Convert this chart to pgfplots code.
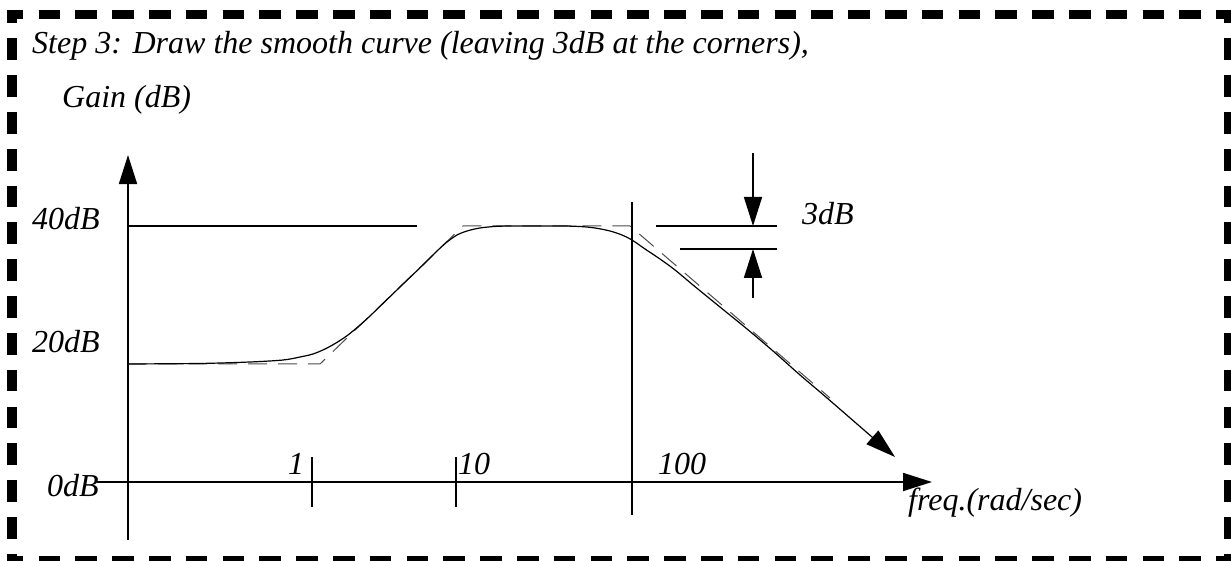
\documentclass[border=0pt]{standalone}
\usepackage{fontspec}
\setmainfont{Liberation Serif}
\usepackage{pgfplots}
\pgfplotsset{compat=1.18}
\usetikzlibrary{arrows.meta}

% Smooth magnitude curve: position along the frequency axis, gain in dB
\pgfplotstableread{
x    db
128  18.44
200  18.52
250  18.75
283  19.06
300  19.53
313  20.00
325  20.78
336  21.72
348  22.97
360  24.53
370  25.94
400  30.47
425  34.22
437  36.09
447  37.50
457  38.59
467  39.22
480  39.69
497  39.95
520  40.00
560  40.00
580  39.92
595  39.69
610  39.22
622  38.59
632  37.81
645  36.41
660  34.84
675  33.13
693  30.78
720  27.34
747  23.91
773  20.47
800  16.72
827  13.13
895  3.91
}\smoothcurve

% Straight-line (asymptotic) approximation
\pgfplotstableread{
x    db
128  18.44
320  18.44
463  40.00
630  40.00
830  13.13
}\asymptote

\begin{document}
\begin{tikzpicture}[x=1pt,y=1pt]
\tikzset{
  lbl/.style={anchor=base west, inner sep=0pt, font=\fontsize{32}{38}\selectfont\itshape},
  axisline/.style={line width=1.8pt, black},
  bigarrow/.style={-{Triangle[length=29pt,width=18pt]}},
}
\begin{scope}
\clip (0,0) rectangle (1231,560);
\begin{axis}[
  at={(0,0)}, anchor=south west,
  width=1231pt, height=560pt, scale only axis,
  xmin=0, xmax=1231, ymin=-12.1875, ymax=75.3125,
  hide axis, clip=false,
]
  % axes
  \draw[axisline, bigarrow] (axis cs:128,-9.06) -- (axis cs:128,51.09);
  \draw[axisline, bigarrow] (axis cs:97,0) -- (axis cs:932,0);
  % decade marks
  \draw[axisline] (axis cs:312,3.906) -- (axis cs:312,-3.906);
  \draw[axisline] (axis cs:456,3.906) -- (axis cs:456,-3.906);
  \draw[axisline] (axis cs:632,43.75) -- (axis cs:632,-5.156);
  % 40 dB reference level
  \draw[line width=1.6pt] (axis cs:128,40) -- (axis cs:417,40);
  % 3 dB indicator
  \draw[line width=1.6pt] (axis cs:656,40) -- (axis cs:777,40);
  \draw[line width=1.6pt] (axis cs:680,36.41) -- (axis cs:777,36.41);
  \draw[line width=1.6pt, bigarrow] (axis cs:753,51.41) -- (axis cs:753,40);
  \draw[line width=1.6pt, bigarrow] (axis cs:753,28.75) -- (axis cs:753,36.41);

  % asymptotes and smooth response
  \addplot[black!70, line width=1pt, dash pattern=on 19pt off 11pt] table[x=x,y=db] {\asymptote};
  \addplot[black, line width=1.2pt, smooth,
           -{Triangle[length=30pt,width=18pt]}] table[x=x,y=db] {\smoothcurve};

  % labels
  \node[lbl] at (axis cs:32,67.03) {Step 3: Draw the smooth curve (leaving 3dB at the corners),};
  \node[lbl] at (axis cs:62,58.59) {Gain (dB)};
  \node[lbl] at (axis cs:32,39.375) {40dB};
  \node[lbl] at (axis cs:32,20.31) {20dB};
  \node[lbl] at (axis cs:47,-2.34) {0dB};
  \node[lbl] at (axis cs:288,1.25) {1};
  \node[lbl] at (axis cs:458,1.25) {10};
  \node[lbl] at (axis cs:658,1.25) {100};
  \node[lbl] at (axis cs:802,40.16) {3dB};
  \node[lbl] at (axis cs:908,-4.53) {freq.(rad/sec)};
\end{axis}
% dashed frame
\tikzset{frame/.style={line width=9.5pt, dash pattern=on 21.7pt off 15.1pt}}
\draw[frame, dash phase=5.3pt] (7,545.5) -- (1245,545.5);
\draw[frame, dash phase=5.3pt] (7,-1) -- (1245,-1);
\draw[frame, dash phase=8.05pt] (12,550.25) -- (12,-20);
\draw[frame, dash phase=8.05pt] (1229,550.25) -- (1229,-20);
\end{scope}
\pgfresetboundingbox
\useasboundingbox (0,0) rectangle (1231,560);
\end{tikzpicture}
\end{document}
